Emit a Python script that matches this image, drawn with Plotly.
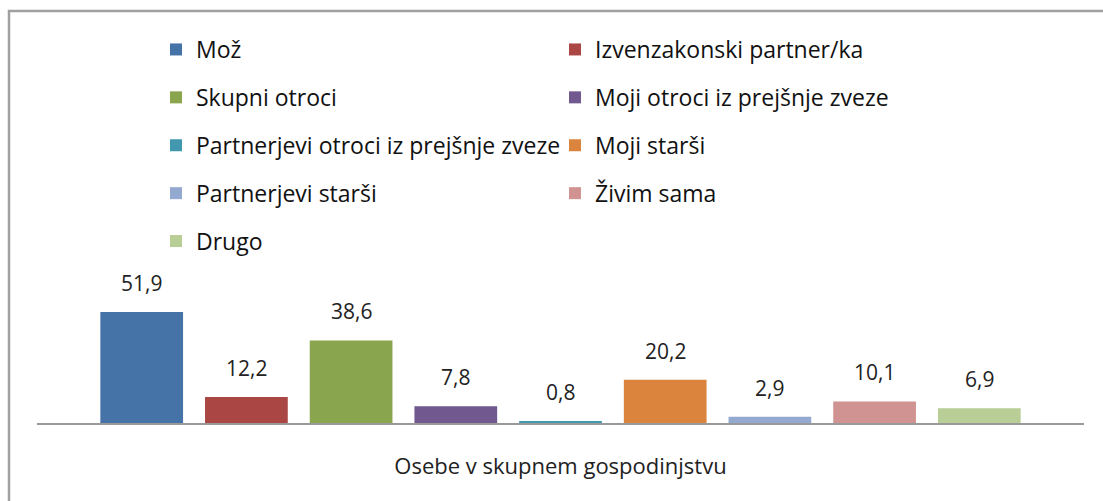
import plotly.graph_objects as go

category = "Osebe v skupnem gospodinjstvu"
series_names = [
    "Mož",
    "Izvenzakonski partner/ka",
    "Skupni otroci",
    "Moji otroci iz prejšnje zveze",
    "Partnerjevi otroci iz prejšnje zveze",
    "Moji starši",
    "Partnerjevi starši",
    "Živim sama",
    "Drugo",
]
series_values = [51.9, 12.2, 38.6, 7.8, 0.8, 20.2, 2.9, 10.1, 6.9]
series_colors = ["#4572A7", "#AA4643", "#89A54E", "#71588F", "#4198AF",
                 "#DB843D", "#93A9CF", "#D19392", "#B9CD96"]

FONT = "Open Sans"
W, H = 1103, 501
ML, MR, MT, MB = 37, 19, 0, 78
PW, PH = W - ML - MR, H - MT - MB
PX_PER_UNIT = 2.14
Y_MAX = PH / PX_PER_UNIT


def px_to_paper_x(px):
    return (px - ML) / PW


def px_to_paper_y(py):
    return (H - MB - py) / PH


fig = go.Figure()
for i, (name, val, col) in enumerate(zip(series_names, series_values, series_colors)):
    fig.add_trace(go.Bar(
        x=[i], y=[val], name=name, width=0.79,
        marker=dict(color=col, line=dict(width=0)),
        legend="legend" if i % 2 == 0 else "legend2",
        legendgroup=name,
        hovertemplate=f"{name}<br>{category}: %{{y}}<extra></extra>",
    ))
    fig.add_annotation(
        x=i, y=val, xref="x", yref="y",
        text=f"{val:.1f}".replace(".", ","),
        showarrow=False, yanchor="middle", yshift=29,
        font=dict(family=FONT, size=21, color="#222222"),
    )

legend_common = dict(
    orientation="v", traceorder="grouped", tracegroupgap=15,
    font=dict(family=FONT, size=23, color="#111111"),
    bgcolor="rgba(0,0,0,0)", yanchor="top", xanchor="left",
)

fig.update_layout(
    width=W, height=H,
    margin=dict(l=ML, r=MR, t=MT, b=MB, autoexpand=False),
    paper_bgcolor="white", plot_bgcolor="white",
    barmode="overlay",
    separators=", ",
    showlegend=True,
    legend=dict(x=px_to_paper_x(156), y=px_to_paper_y(28), **legend_common),
    legend2=dict(x=px_to_paper_x(555), y=px_to_paper_y(28), **legend_common),
    xaxis=dict(
        range=[-1, 9], showgrid=False, zeroline=False,
        showline=True, linecolor="#999999", linewidth=2,
        tickvals=[], showticklabels=False, automargin=False,
        title=dict(text=category, font=dict(family=FONT, size=22, color="#222222"), standoff=35),
        fixedrange=True,
    ),
    yaxis=dict(range=[0, Y_MAX], visible=False, fixedrange=True, automargin=False),
    shapes=[dict(
        type="rect", xref="paper", yref="paper",
        x0=px_to_paper_x(9), x1=px_to_paper_x(W + 20),
        y0=px_to_paper_y(H + 20), y1=px_to_paper_y(11),
        line=dict(color="#A0A0A0", width=2.5), fillcolor="rgba(0,0,0,0)", layer="below",
    )],
)

fig.write_html(
    "out.html",
    config={"displayModeBar": False},
    post_script="document.body.style.margin='0';document.body.style.overflow='hidden';",
)
